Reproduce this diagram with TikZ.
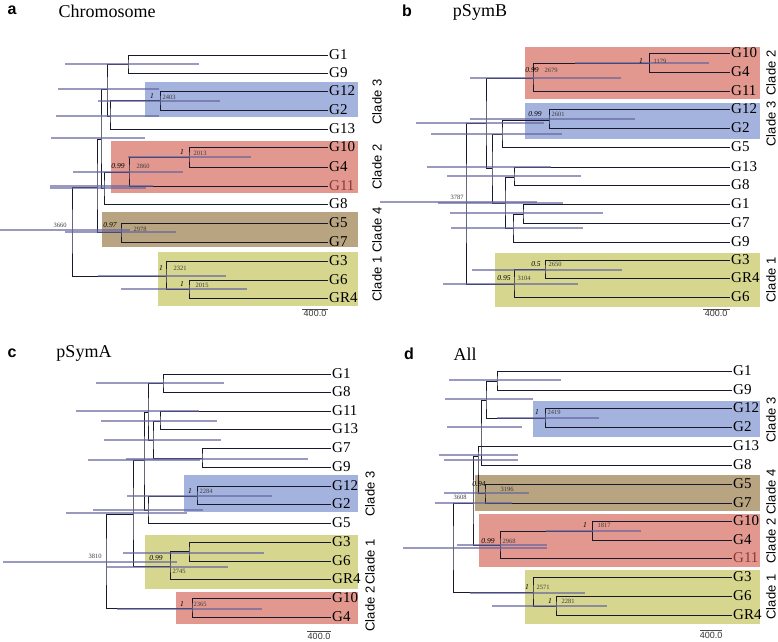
\documentclass[tikz,border=0pt]{standalone}
\usepackage{fontspec}
\setmainfont{Liberation Serif}
\setsansfont{Liberation Sans}
\usepackage{tikz}
\definecolor{cladeblue}{RGB}{164,178,222}
\definecolor{cladered}{RGB}{226,152,142}
\definecolor{cladetan}{RGB}{184,164,128}
\definecolor{cladeyellow}{RGB}{214,214,142}
\definecolor{barblue}{RGB}{100,100,160}
\definecolor{treeline}{RGB}{25,25,45}
\definecolor{agegrey}{RGB}{60,60,60}
\definecolor{tipred}{RGB}{140,55,55}
\newcommand{\leaffont}{\fontsize{15}{15}\selectfont}
\newcommand{\agefont}{\fontsize{6.5}{6.5}\selectfont}
\newcommand{\probfont}{\fontsize{7.5}{7.5}\selectfont\itshape}
\newcommand{\cladefont}{\fontsize{13}{13}\selectfont\sffamily}
\newcommand{\panelfont}{\fontsize{16}{16}\selectfont\sffamily\bfseries}
\newcommand{\headfont}{\fontsize{18}{18}\selectfont}
\newcommand{\barfont}{\fontsize{9}{9}\selectfont\sffamily}
\tikzstyle{leaf} = [anchor=west, inner xsep=1pt, inner ysep=0pt, font=\leaffont]
\tikzstyle{leafred} = [leaf, text=tipred]
\tikzstyle{branch} = [draw=treeline, line width=0.8pt]
\tikzstyle{hpd} = [draw=barblue, line width=2.6pt, draw opacity=0.65]
\tikzstyle{prob} = [inner sep=0pt, font=\probfont]
\tikzstyle{age} = [inner sep=0pt, font=\agefont, text=agegrey]
\tikzstyle{cladetag} = [rotate=90, inner sep=0pt, font=\cladefont]
\tikzstyle{panel} = [inner sep=0pt, font=\panelfont]
\tikzstyle{heading} = [inner sep=0pt, font=\headfont]
\tikzstyle{scalebar} = [draw=black!70, line width=0.8pt]
\tikzstyle{scaletext} = [anchor=north, inner sep=0.5pt, font=\barfont, text=black!80]

\begin{document}
\begin{tikzpicture}[x=1pt, y=-1pt]
                 \useasboundingbox (0,0) rectangle (778,641);

                 % a: Chromosome
                 \fill [cladeblue] (145,82) rectangle (358,117);
                 \fill [cladered] (111,141) rectangle (358,193);
                 \fill [cladetan] (102,212) rectangle (358,247);
                 \fill [cladeyellow] (158,252) rectangle (358,306);
                 \node [panel] at (12,10) (apanel) {a};
                 \node [heading] at (107,11) (ahead) {Chromosome};
                 \node [leaf] at (328,55) (aG1) {G1};
                 \node [leaf] at (328,73) (aG9) {G9};
                 \node [leaf] at (328,91) (aG12) {G12};
                 \node [leaf] at (328,110) (aG2) {G2};
                 \node [leaf] at (328,129) (aG13) {G13};
                 \node [leaf] at (328,147) (aG10) {G10};
                 \node [leaf] at (328,167) (aG4) {G4};
                 \node [leafred] at (328,186) (aG11) {G11};
                 \node [leaf] at (328,204) (aG8) {G8};
                 \node [leaf] at (328,223) (aG5) {G5};
                 \node [leaf] at (328,242) (aG7) {G7};
                 \node [leaf] at (328,261) (aG3) {G3};
                 \node [leaf] at (328,280) (aG6) {G6};
                 \node [leaf] at (328,298) (aGR4) {GR4};
                 \coordinate (an1) at (128,64);
                 \coordinate (ac3) at (160,100);
                 \coordinate (an2a) at (110,116);
                 \coordinate (an2) at (107,89);
                 \coordinate (ac2i) at (189,157);
                 \coordinate (ac2) at (129,172);
                 \coordinate (an4) at (104,188);
                 \coordinate (an3) at (101,139);
                 \coordinate (ac4) at (121,232);
                 \coordinate (an5) at (97,187);
                 \coordinate (ac1i) at (189,289);
                 \coordinate (ac1) at (166,276);
                 \coordinate (aroot) at (72,231);
                 \draw [branch] (aG1.west) -| (an1) |- (aG9.west);
                 \draw [branch] (aG12.west) -| (ac3) |- (aG2.west);
                 \draw [branch] (ac3) -| (an2a) |- (aG13.west);
                 \draw [branch] (an1) -| (an2) |- (an2a);
                 \draw [branch] (aG10.west) -| (ac2i) |- (aG4.west);
                 \draw [branch] (ac2i) -| (ac2) |- (aG11.west);
                 \draw [branch] (ac2) -| (an4) |- (aG8.west);
                 \draw [branch] (an2) -| (an3) |- (an4);
                 \draw [branch] (aG5.west) -| (ac4) |- (aG7.west);
                 \draw [branch] (an3) -| (an5) |- (ac4);
                 \draw [branch] (aG3.west) -| (ac1) |- (ac1i);
                 \draw [branch] (aG6.west) -| (ac1i) |- (aGR4.west);
                 \draw [branch] (an5) -| (aroot) |- (ac1);
                 \draw [hpd] (65,64) -- (199,64);
                 \draw [hpd] (58,89) -- (159,89);
                 \draw [hpd] (98,101) -- (220,101);
                 \draw [hpd] (56,116) -- (159,116);
                 \draw [hpd] (51,138) -- (145,138);
                 \draw [hpd] (128,157) -- (251,157);
                 \draw [hpd] (73,172) -- (183,172);
                 \draw [hpd] (50,186) -- (153,186);
                 \draw [hpd] (50,188) -- (146,188);
                 \draw [hpd] (0,230) -- (130,230);
                 \draw [hpd] (65,232) -- (176,232);
                 \draw [hpd] (98,276) -- (226,276);
                 \draw [hpd] (121,289) -- (247,289);
                 \node [prob] at (152,96) (aprc3) {1};
                 \node [age] at (169,97) (aagc3) {2403};
                 \node [prob] at (182,152) (aprc2i) {1};
                 \node [age] at (200,153) (aagc2i) {2013};
                 \node [prob] at (118,166) (aprc2) {0.99};
                 \node [age] at (143,166) (aagc2) {2860};
                 \node [age] at (60,225) (aagroot) {3660};
                 \node [prob] at (110,225) (aprc4) {0.97};
                 \node [age] at (140,229) (aagc4) {2978};
                 \node [prob] at (161,268) (aprc1) {1};
                 \node [age] at (180,268) (aagc1) {2321};
                 \node [prob] at (182,284) (aprc1i) {1};
                 \node [age] at (202,285) (aagc1i) {2015};
                 \node [cladetag] at (377,102) (atag3) {Clade 3};
                 \node [cladetag] at (377,167) (atag2) {Clade 2};
                 \node [cladetag] at (377,230) (atag4) {Clade 4};
                 \node [cladetag] at (377,279) (atag1) {Clade 1};
                 \draw [scalebar] (302,309) -- (328,309);
                 \node [scaletext] at (315,310) (ascale) {400.0};

                 % b: pSymB
                 \fill [cladered] (525,47) rectangle (760,99);
                 \fill [cladeblue] (525,103) rectangle (760,139);
                 \fill [cladeyellow] (495,253) rectangle (760,307);
                 \node [panel] at (407,11) (bpanel) {b};
                 \node [heading] at (480,12) (bhead) {pSymB};
                 \node [leaf] at (730,53) (bG10) {G10};
                 \node [leaf] at (730,72) (bG4) {G4};
                 \node [leaf] at (730,91) (bG11) {G11};
                 \node [leaf] at (730,109) (bG12) {G12};
                 \node [leaf] at (730,128) (bG2) {G2};
                 \node [leaf] at (730,147) (bG5) {G5};
                 \node [leaf] at (730,167) (bG13) {G13};
                 \node [leaf] at (730,185) (bG8) {G8};
                 \node [leaf] at (730,204) (bG1) {G1};
                 \node [leaf] at (730,223) (bG7) {G7};
                 \node [leaf] at (730,242) (bG9) {G9};
                 \node [leaf] at (730,260) (bG3) {G3};
                 \node [leaf] at (730,278) (bGR4) {GR4};
                 \node [leaf] at (730,297) (bG6) {G6};
                 \coordinate (bc2i) at (649,63);
                 \coordinate (bc2) at (533,78);
                 \coordinate (bc3) at (549,120);
                 \coordinate (bn3) at (502,134);
                 \coordinate (bn7) at (514,177);
                 \coordinate (bn8) at (523,214);
                 \coordinate (bn6) at (513,228);
                 \coordinate (bn5) at (505,203);
                 \coordinate (bn4) at (492,168);
                 \coordinate (bn2) at (486,123);
                 \coordinate (bc1i) at (545,269);
                 \coordinate (bc1) at (514,284);
                 \coordinate (broot) at (466,203);
                 \draw [branch] (bG10.west) -| (bc2i) |- (bG4.west);
                 \draw [branch] (bc2i) -| (bc2) |- (bG11.west);
                 \draw [branch] (bG12.west) -| (bc3) |- (bG2.west);
                 \draw [branch] (bc3) -| (bn3) |- (bG5.west);
                 \draw [branch] (bG13.west) -| (bn7) |- (bG8.west);
                 \draw [branch] (bG1.west) -| (bn8) |- (bG7.west);
                 \draw [branch] (bn8) -| (bn6) |- (bG9.west);
                 \draw [branch] (bn7) -| (bn5) |- (bn6);
                 \draw [branch] (bn3) -| (bn4) |- (bn5);
                 \draw [branch] (bc2) -| (bn2) |- (bn4);
                 \draw [branch] (bG3.west) -| (bc1i) |- (bGR4.west);
                 \draw [branch] (bc1i) -| (bc1) |- (bG6.west);
                 \draw [branch] (bn2) -| (broot) |- (bc1);
                 \draw [hpd] (575,63) -- (709,63);
                 \draw [hpd] (470,78) -- (621,78);
                 \draw [hpd] (470,119) -- (635,119);
                 \draw [hpd] (416,123) -- (544,123);
                 \draw [hpd] (431,134) -- (562,134);
                 \draw [hpd] (427,167) -- (551,167);
                 \draw [hpd] (447,176) -- (581,176);
                 \draw [hpd] (380,202) -- (537,202);
                 \draw [hpd] (438,203) -- (563,203);
                 \draw [hpd] (450,213) -- (603,213);
                 \draw [hpd] (451,228) -- (583,228);
                 \draw [hpd] (472,270) -- (622,270);
                 \draw [hpd] (443,284) -- (578,284);
                 \node [prob] at (641,61) (bprc2i) {1};
                 \node [age] at (660,61) (bagc2i) {1179};
                 \node [prob] at (532,70) (bprc2) {0.99};
                 \node [age] at (551,70) (bagc2) {2679};
                 \node [prob] at (535,114) (bprc3) {0.99};
                 \node [age] at (558,114) (bagc3) {2601};
                 \node [age] at (457,197) (bagroot) {3787};
                 \node [prob] at (536,264) (bprc1i) {0.5};
                 \node [age] at (555,264) (bagc1i) {2650};
                 \node [prob] at (504,278) (bprc1) {0.95};
                 \node [age] at (524,278) (bagc1) {3104};
                 \node [cladetag] at (771,73) (btag2) {Clade 2};
                 \node [cladetag] at (771,124) (btag3) {Clade 3};
                 \node [cladetag] at (771,280) (btag1) {Clade 1};
                 \draw [scalebar] (703,309) -- (730,309);
                 \node [scaletext] at (716,310) (bscale) {400.0};

                 % c: pSymA
                 \fill [cladeblue] (184,475) rectangle (358,512);
                 \fill [cladeyellow] (145,535) rectangle (358,589);
                 \fill [cladered] (176,592) rectangle (358,624);
                 \node [panel] at (12,353) (cpanel) {c};
                 \node [heading] at (84,353) (chead) {pSymA};
                 \node [leaf] at (331,374) (cG1) {G1};
                 \node [leaf] at (331,392) (cG8) {G8};
                 \node [leaf] at (331,411) (cG11) {G11};
                 \node [leaf] at (331,429) (cG13) {G13};
                 \node [leaf] at (331,448) (cG7) {G7};
                 \node [leaf] at (331,467) (cG9) {G9};
                 \node [leaf] at (331,486) (cG12) {G12};
                 \node [leaf] at (331,504) (cG2) {G2};
                 \node [leaf] at (331,523) (cG5) {G5};
                 \node [leaf] at (331,542) (cG3) {G3};
                 \node [leaf] at (331,561) (cG6) {G6};
                 \node [leaf] at (331,579) (cGR4) {GR4};
                 \node [leaf] at (331,598) (cG10) {G10};
                 \node [leaf] at (331,617) (cG4) {G4};
                 \coordinate (cn1) at (163,383);
                 \coordinate (cn7) at (160,421);
                 \coordinate (cn8) at (202,458);
                 \coordinate (cn3) at (153,440);
                 \coordinate (cn2) at (148,412);
                 \coordinate (cc3) at (197,496);
                 \coordinate (cn5) at (148,510);
                 \coordinate (cn4) at (144,460);
                 \coordinate (cc1i) at (189,551);
                 \coordinate (cc1) at (170,566);
                 \coordinate (cn6) at (133,514);
                 \coordinate (cc2) at (192,608);
                 \coordinate (croot) at (106,562);
                 \draw [branch] (cG1.west) -| (cn1) |- (cG8.west);
                 \draw [branch] (cG11.west) -| (cn7) |- (cG13.west);
                 \draw [branch] (cG7.west) -| (cn8) |- (cG9.west);
                 \draw [branch] (cn7) -| (cn3) |- (cn8);
                 \draw [branch] (cn1) -| (cn2) |- (cn3);
                 \draw [branch] (cG12.west) -| (cc3) |- (cG2.west);
                 \draw [branch] (cc3) -| (cn5) |- (cG5.west);
                 \draw [branch] (cn2) -| (cn4) |- (cn5);
                 \draw [branch] (cG3.west) -| (cc1i) |- (cG6.west);
                 \draw [branch] (cc1i) -| (cc1) |- (cGR4.west);
                 \draw [branch] (cn4) -| (cn6) |- (cc1);
                 \draw [branch] (cG10.west) -| (cc2) |- (cG4.west);
                 \draw [branch] (cn6) -| (croot) |- (cc2);
                 \draw [hpd] (96,383) -- (224,383);
                 \draw [hpd] (76,411) -- (199,411);
                 \draw [hpd] (101,421) -- (217,421);
                 \draw [hpd] (104,440) -- (221,440);
                 \draw [hpd] (126,459) -- (308,459);
                 \draw [hpd] (88,460) -- (200,460);
                 \draw [hpd] (127,496) -- (272,496);
                 \draw [hpd] (93,510) -- (203,510);
                 \draw [hpd] (66,513) -- (187,513);
                 \draw [hpd] (123,553) -- (264,553);
                 \draw [hpd] (3,562) -- (177,562);
                 \draw [hpd] (107,567) -- (228,567);
                 \draw [hpd] (117,609) -- (262,609);
                 \node [prob] at (190,491) (cprc3) {1};
                 \node [age] at (206,491) (cagc3) {2284};
                 \node [age] at (95,556) (cagroot) {3810};
                 \node [prob] at (156,558) (cprc1) {0.99};
                 \node [age] at (179,571) (cagc1) {2745};
                 \node [prob] at (182,604) (cprc2) {1};
                 \node [age] at (200,604) (cagc2) {2365};
                 \node [cladetag] at (370,494) (ctag3) {Clade 3};
                 \node [cladetag] at (370,562) (ctag1) {Clade 1};
                 \node [cladetag] at (370,609) (ctag2) {Clade 2};
                 \draw [scalebar] (307,631) -- (331,631);
                 \node [scaletext] at (319,632) (cscale) {400.0};

                 % d: All
                 \fill [cladeblue] (533,401) rectangle (760,437);
                 \fill [cladetan] (475,475) rectangle (760,511);
                 \fill [cladered] (479,514) rectangle (760,567);
                 \fill [cladeyellow] (525,570) rectangle (760,624);
                 \node [panel] at (409,354) (dpanel) {d};
                 \node [heading] at (465,354) (dhead) {All};
                 \node [leaf] at (732,371) (dG1) {G1};
                 \node [leaf] at (732,390) (dG9) {G9};
                 \node [leaf] at (732,408) (dG12) {G12};
                 \node [leaf] at (732,427) (dG2) {G2};
                 \node [leaf] at (732,446) (dG13) {G13};
                 \node [leaf] at (732,465) (dG8) {G8};
                 \node [leaf] at (732,484) (dG5) {G5};
                 \node [leaf] at (732,503) (dG7) {G7};
                 \node [leaf] at (732,521) (dG10) {G10};
                 \node [leaf] at (732,540) (dG4) {G4};
                 \node [leafred] at (732,558) (dG11) {G11};
                 \node [leaf] at (732,577) (dG3) {G3};
                 \node [leaf] at (732,596) (dG6) {G6};
                 \node [leaf] at (732,615) (dGR4) {GR4};
                 \coordinate (dn1) at (497,381);
                 \coordinate (dc3) at (545,418);
                 \coordinate (dn2) at (486,400);
                 \coordinate (dn3) at (481,446);
                 \coordinate (dc4) at (485,493);
                 \coordinate (dn5) at (478,456);
                 \coordinate (dc2i) at (592,531);
                 \coordinate (dc2) at (500,545);
                 \coordinate (dn6) at (473,503);
                 \coordinate (dc1i) at (556,606);
                 \coordinate (dc1) at (533,592);
                 \coordinate (droot) at (453,548);
                 \draw [branch] (dG1.west) -| (dn1) |- (dG9.west);
                 \draw [branch] (dG12.west) -| (dc3) |- (dG2.west);
                 \draw [branch] (dn1) -| (dn2) |- (dc3);
                 \draw [branch] (dn2) -| (dn3) |- (dG8.west);
                 \draw [branch] (dn3) -- (dG13.west);
                 \draw [branch] (dG5.west) -| (dc4) |- (dG7.west);
                 \draw [branch] (dn3) -| (dn5) |- (dc4);
                 \draw [branch] (dG10.west) -| (dc2i) |- (dG4.west);
                 \draw [branch] (dc2i) -| (dc2) |- (dG11.west);
                 \draw [branch] (dn5) -| (dn6) |- (dc2);
                 \draw [branch] (dG3.west) -| (dc1) |- (dc1i);
                 \draw [branch] (dG6.west) -| (dc1i) |- (dGR4.west);
                 \draw [branch] (dn6) -| (droot) |- (dc1);
                 \draw [hpd] (449,380) -- (561,380);
                 \draw [hpd] (445,399) -- (533,399);
                 \draw [hpd] (497,418) -- (599,418);
                 \draw [hpd] (447,427) -- (522,427);
                 \draw [hpd] (439,455) -- (518,455);
                 \draw [hpd] (444,460) -- (518,460);
                 \draw [hpd] (444,493) -- (529,493);
                 \draw [hpd] (435,503) -- (512,503);
                 \draw [hpd] (546,531) -- (641,531);
                 \draw [hpd] (457,545) -- (547,545);
                 \draw [hpd] (403,548) -- (547,548);
                 \draw [hpd] (470,593) -- (585,593);
                 \draw [hpd] (492,606) -- (607,606);
                 \node [prob] at (537,412) (dprc3) {1};
                 \node [age] at (554,412) (dagc3) {2419};
                 \node [prob] at (479,484) (dprc4) {0.94};
                 \node [age] at (507,489) (dagc4) {3196};
                 \node [age] at (460,497) (dagroot) {3608};
                 \node [prob] at (585,525) (dprc2i) {1};
                 \node [age] at (604,525) (dagc2i) {1817};
                 \node [prob] at (488,541) (dprc2) {0.99};
                 \node [age] at (509,541) (dagc2) {2968};
                 \node [prob] at (527,587) (dprc1) {1};
                 \node [age] at (543,587) (dagc1) {2571};
                 \node [prob] at (550,601) (dprc1i) {1};
                 \node [age] at (568,601) (dagc1i) {2281};
                 \node [cladetag] at (771,420) (dtag3) {Clade 3};
                 \node [cladetag] at (771,492) (dtag4) {Clade 4};
                 \node [cladetag] at (771,541) (dtag2) {Clade 2};
                 \node [cladetag] at (771,597) (dtag1) {Clade 1};
                 \draw [scalebar] (700,630) -- (722,630);
                 \node [scaletext] at (711,631) (dscale) {400.0};
                 \end{tikzpicture}
\end{document}
